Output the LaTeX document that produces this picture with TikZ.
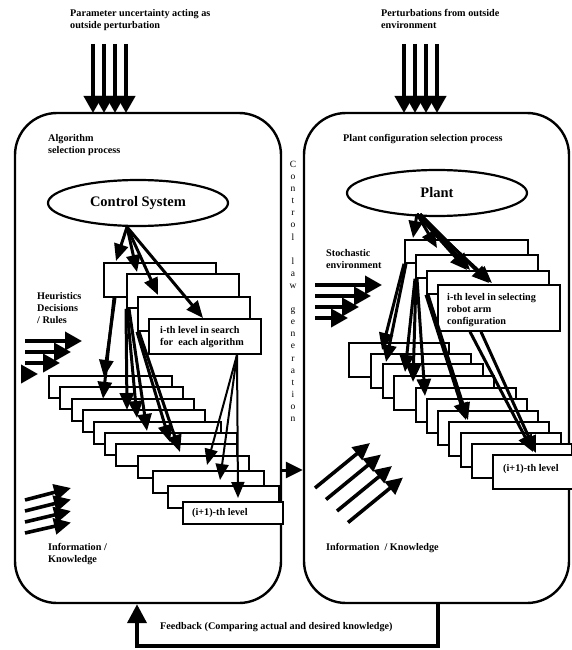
\documentclass[tikz,border=0pt]{standalone}
\usepackage{fontspec}
\setmainfont{Liberation Serif}
\usetikzlibrary{arrows.meta,shapes.geometric,calc}
\begin{document}
\begin{tikzpicture}[x=1pt,y=-1pt,
  panel/.style={draw, line width=2.4pt, rounded corners=42pt, inner sep=0pt},
  lvl/.style={draw, fill=white, line width=1.8pt, inner sep=0pt, anchor=north west},
  oval/.style={draw, ellipse, line width=2.2pt, fill=white, inner sep=0pt,
    minimum width=180pt, minimum height=46pt, font=\fontsize{14.5}{16}\selectfont\bfseries},
  lbl/.style={inner sep=0pt, anchor=north west, align=left,
    font=\fontsize{10.2}{12}\selectfont\bfseries},
  push/.style={line width=3.8pt, -{Triangle[length=17pt,width=18pt]}},
  fan/.style={line width=3pt, -{Triangle[length=17pt,width=14pt]}},
  thin fan/.style={line width=2pt, -{Triangle[length=16pt,width=13pt]}},
  info/.style={line width=3.6pt, -{Triangle[length=17pt,width=16pt]}},
  fb/.style={line width=4pt, -{Triangle[length=19pt,width=19pt]}},
]
\useasboundingbox (0,0) rectangle (572,650);

% the two selection processes
\node[panel, minimum width=266pt, minimum height=490pt] (lbox) at (148,358) {};
\node[panel, minimum width=265pt, minimum height=490pt] (rbox) at (436.5,358) {};

% ellipses
\node[oval] (cs) at (138,203) {Control System};
\node[oval] (pl) at (437,193) {Plant};

% search levels of the control system
\node[lvl, minimum width=112pt, minimum height=34pt] (a1) at (103,262) {};
\node[lvl, minimum width=112pt, minimum height=34pt] (a2) at (126,273) {};
\node[lvl, minimum width=112pt, minimum height=34pt] (a3) at (137,296) {};
\node[lvl, minimum width=112pt, minimum height=35pt] (a4) at (148,318) {};
\foreach \x/\y/\w [count=\i] in {48/375/123, 59/386/123, 71/398/122, 82/409/122,
    93/421/127, 104/432/132, 115/443/121, 137/455/111, 152/470/111, 167/485/111, 182/501/100}
  \node[lvl, minimum width=\w pt, minimum height=22pt] (c\i) at (\x,\y) {};

% configuration levels of the plant
\node[lvl, minimum width=123pt, minimum height=23pt] (b1) at (404,239) {};
\node[lvl, minimum width=122pt, minimum height=23pt] (b2) at (415,254) {};
\node[lvl, minimum width=122pt, minimum height=23pt] (b3) at (426,270) {};
\node[lvl, minimum width=122pt, minimum height=46pt] (b4) at (437,284) {};
\foreach \x/\y [count=\i] in {348/342, 370/353, 382/363, 393/375, 415/387, 426/398,
    437/410, 448/421, 460/432, 471/443, 492/454}
  \node[lvl, minimum width=100pt, minimum height=34pt] (d\i) at (\x,\y) {};

% fan out of the control system
\coordinate (csb) at (127,227);
\draw[fan] (csb) -- ($(a1.north west)+(13,-1)$);
\draw[fan] (csb) -- ($(a2.north west)+(11,-1)$);
\draw[fan] (csb) -- ($(a3.north west)+(21,-1)$);
\draw[fan] (csb) -- ($(a4.north west)+(55,0)$);
\draw[fan] ($(a1.south west)+(12,0)$) -- ($(c1.north west)+(56,2)$);
\draw[fan] ($(a1.south west)+(11,0)$) -- ($(c1.south west)+(55,0)$);
\draw[fan] (a2.south west) -- ($(c4.north west)+(45,1)$);
\draw[fan] ($(a2.south west)+(1,0)$) -- ($(c5.north west)+(44,-3)$);
\draw[fan] ($(a2.south west)+(3,0)$) -- ($(c6.north west)+(43,-1)$);
\draw[fan] (a3.south west) -- ($(c7.north west)+(55,-1)$);
\draw[fan] ($(a3.south west)+(2,0)$) -- ($(c8.north west)+(43,-3)$);
\draw[thin fan] ($(a4.south west)+(89,0)$) -- ($(c9.north west)+(55,-5)$);
\draw[thin fan] ($(a4.south west)+(89,0)$) -- ($(c10.north west)+(53,-5)$);
\draw[thin fan] ($(a4.south west)+(89,0)$) -- ($(c11.north west)+(56,-3)$);

% fan out of the plant
\coordinate (plb) at (417,214);
\draw[fan] (plb) -- ($(b1.north west)+(9,-1)$);
\draw[fan] (plb) -- ($(b2.north west)+(22,-6)$);
\draw[fan] (plb) -- ($(b3.north west)+(41,0)$);
\draw[fan] ($(plb)+(3,0)$) -- ($(b3.north west)+(44,0)$);
\draw[fan] (plb) -- ($(b4.north west)+(55,-1)$);
\draw[fan] ($(plb)+(3,0)$) -- ($(b4.north west)+(52,-1)$);
\draw[fan] (b1.south west) -- ($(d1.north west)+(34,8)$);
\draw[fan] ($(b1.south west)+(2,0)$) -- ($(d2.north west)+(16,9)$);
\draw[fan] (b2.south west) -- ($(d4.north west)+(12,-3)$);
\draw[fan] ($(b2.south west)+(1,0)$) -- ($(d5.north west)+(-2,-5)$);
\draw[fan] ($(b2.south west)+(2,0)$) -- ($(d6.north west)+(-1,-2)$);
\draw[fan] (b3.south west) -- ($(d8.north west)+(18,-1)$);
\draw[fan] ($(b3.south west)+(2,0)$) -- ($(d8.north west)+(20,-1)$);
\draw[fan] ($(b4.south west)+(33,0)$) -- ($(d11.north west)+(41,-2)$);
\draw[fan] ($(b4.south west)+(44,0)$) -- ($(d11.north west)+(44,-1)$);

% perturbations from above
\foreach \x in {93,104,115,126} \draw[push] (\x,44) -- (\x,113);
\foreach \x in {404,415,426,437} \draw[push] (\x,44) -- (\x,113);

% heuristics and stochastic inputs
\foreach \y/\t in {341/82, 352/71, 363/60} \draw[push] (25,\y) -- (\t,\y);
\draw[push] (21,374) -- (38,374);
\foreach \y/\t in {285/382, 296/371, 307/359, 318/348} \draw[push] (315,\y) -- (\t,\y);

% information / knowledge inputs
\foreach \k in {0,1,2,3}
  \draw[info] (25,500+11*\k) -- (71,488+11.5*\k);
\foreach \k in {0,1,2,3}
  \draw[info] (315+11*\k,488+11.5*\k) -- (370+11*\k,443+11.5*\k);

% control law passed to the plant
\coordinate (cl) at (0,470);
\draw[line width=3pt, -{Triangle[length=17pt,width=16pt]}] (lbox.east |- cl) -- (rbox.west |- cl);

% feedback loop
\draw[fb] ($(rbox.south)+(1.5,0)$) -- ++(0,42) -| ($(lbox.south)+(-11,0)$);

% texts
\node[lbl] (tl) at (70,9) {Parameter uncertainty acting as\\outside perturbation};
\node[lbl] (tr) at (381,9) {Perturbations from outside\\environment};
\node[lbl] (algo) at (48,134) {Algorithm\\selection process};
\node[lbl] (pcsp) at (343,134) {Plant configuration selection process};
\node[lbl] (heur) at (37,292) {Heuristics\\Decisions\\/ Rules};
\node[lbl] (ith) at (160,326) {i-th level in search\\for\ \ each algorithm};
\node[lbl] (inext) at (192,508) {(i+1)-th level};
\node[lbl] (stoch) at (326,249) {Stochastic\\environment};
\node[lbl] (jth) at (447,293) {i-th level in selecting\\robot arm\\configuration};
\node[lbl] (jnext) at (503,464) {(i+1)-th level};
\node[lbl] (infl) at (48,543) {Information /\\Knowledge};
\node[lbl] (infr) at (326,543) {Information\ \ / Knowledge};
\node[lbl] (fbt) at (160,622) {Feedback (Comparing actual and desired knowledge)};
\node[inner sep=0pt, anchor=north, align=center, font=\fontsize{9.5}{12.1}\selectfont] (clg) at (293,161)
  {C\\o\\n\\t\\r\\o\\l\\~\\l\\a\\w\\~\\g\\e\\n\\e\\r\\a\\t\\i\\o\\n};
\end{tikzpicture}
\end{document}
